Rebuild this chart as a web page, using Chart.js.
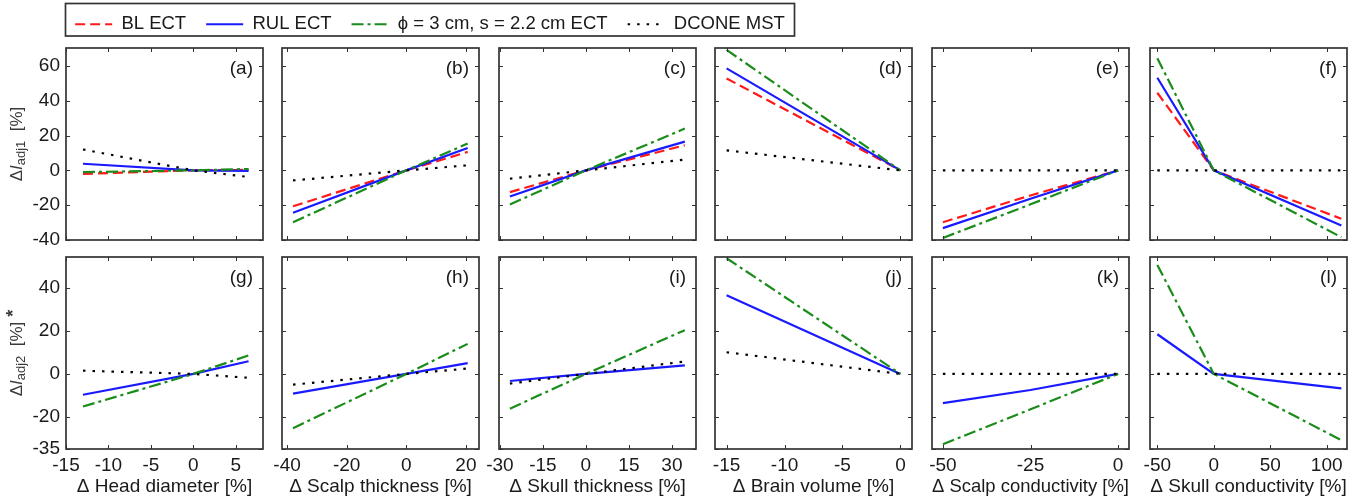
<!DOCTYPE html>
<html>
<head>
<meta charset="utf-8">
<script src="https://cdn.jsdelivr.net/npm/chart.js@4.4.1/dist/chart.umd.min.js"></script>
<style>
html, body { margin: 0; padding: 0; background: #fff; }
#wrap { position: relative; width: 1361px; height: 500px; overflow: hidden; background: #fff; }
#wrap canvas { position: absolute; }
</style>
</head>
<body>
<div id="wrap"></div>
<script>
// ---- data ----
const seriesNames = ['BL ECT', 'RUL ECT', 'ϕ = 3 cm, s = 2.2 cm ECT', 'DCONE MST'];
const panelLetters = [['a', 'b', 'c', 'd', 'e', 'f'], ['g', 'h', 'i', 'j', 'k', 'l']];
const xTitles = ['Δ Head diameter [%]', 'Δ Scalp thickness [%]', 'Δ Skull thickness [%]',
  'Δ Brain volume [%]', 'Δ Scalp conductivity [%]', 'Δ Skull conductivity [%]'];
const xTickVals = [[-15, -10, -5, 0, 5], [-40, -20, 0, 20], [-30, -15, 0, 15, 30],
  [-15, -10, -5, 0], [-50, -25, 0], [-50, 0, 50, 100]];
const xMin = [-15, -41.7, -30.3, -16, -53.1, -56.5];
const xMax = [8.2, 24.4, 38.4, 1, 3.1, 118];
const yTickVals = [[-40, -20, 0, 20, 40, 60], [-35, -20, 0, 20, 40]];
const yMin = [-40, -35];
const yMax = [70.3, 54.5];

// sampled parameter changes [%] for each column
const xSamples = [[-13, 0, 6.5], [-38, 0, 20.6], [-26.5, 0, 34.5], [-15, 0], [-50, -25, 0], [-50, 0, 113]];

// ΔI_adj1 [%] (top row)
const blAdj1 = [[-2, 0, 0.3], [-20.6, 0, 10.6], [-12.5, 0, 14.4], [52.8, 0], [-29.8, -14.4, 0], [44.6, 0, -27.8]];
const rulAdj1 = [[3.8, 0, -0.3], [-24.4, 0, 12.8], [-15, 0, 16.5], [58.6, 0], [-33.2, -16.3, 0], [53.2, 0, -31.7]];
const phiAdj1 = [[-1, 0, 0.8], [-29.8, 0, 15.4], [-19.6, 0, 24], [69.2, 0], [-38.8, -19.5, 0], [64.4, 0, -38.4]];
const dconeAdj1 = [[12, 0, -3.8], [-5.8, 0, 2.9], [-4.8, 0, 6.2], [11.5, 0], [0, 0, 0], [0, 0, 0]];

// ΔI_adj2 [%] (bottom row, no BL ECT curve)
const rulAdj2 = [[-9.7, 0, 5.9], [-9.2, 0, 5], [-3.3, 0, 4], [36.7, 0], [-13.6, -7.5, 0], [18.5, 0, -6.7]];
const phiAdj2 = [[-15.2, 0, 8.6], [-25.3, 0, 14], [-16.2, 0, 20.4], [53.9, 0], [-32.8, -16.5, 0], [50.8, 0, -30.9]];
const dconeAdj2 = [[1.5, 0, -1.8], [-5, 0, 2.5], [-4.5, 0, 5.8], [10.1, 0], [0, 0, 0], [0, 0, 0]];

const rowSeries = [[blAdj1, rulAdj1, phiAdj1, dconeAdj1], [null, rulAdj2, phiAdj2, dconeAdj2]];

// ---- styles / layout ----
const FONT = '"Liberation Sans", Arial, Helvetica, sans-serif';
const TXT = '#1a1a1a';
const lineStyles = [
  { color: '#ff1a1a', dash: [10, 5] },
  { color: '#1a1aff', dash: [] },
  { color: '#1a8c1a', dash: [12, 4, 3, 4] },
  { color: '#000000', dash: [2.5, 7] }
];
const colLeft = [66, 282, 499, 715, 932, 1150];
const rowTop = [48, 257];
const panelW = 197, panelH = 192;

const wrap = document.getElementById('wrap');

function drawRich(ctx, parts, cx, cy) {
  ctx.save();
  ctx.translate(cx, cy);
  ctx.rotate(-Math.PI / 2);
  ctx.textBaseline = 'middle';
  ctx.textAlign = 'left';
  let total = 0;
  parts.forEach(p => { ctx.font = p.f; total += ctx.measureText(p.t).width; });
  let x = -total / 2;
  parts.forEach(p => {
    ctx.font = p.f;
    ctx.fillText(p.t, x, p.dy || 0);
    x += ctx.measureText(p.t).width;
  });
  ctx.restore();
}

const deco = {
  id: 'deco',
  afterDraw(chart, args, opts) {
    const { ctx, chartArea: a, scales } = chart;
    const x = scales.x, y = scales.y;
    ctx.save();
    ctx.strokeStyle = '#333';
    ctx.lineWidth = 1;
    ctx.beginPath();
    x.ticks.forEach(t => {
      const px = Math.round(x.getPixelForValue(t.value)) + 0.5;
      ctx.moveTo(px, a.bottom); ctx.lineTo(px, a.bottom - 4);
      ctx.moveTo(px, a.top); ctx.lineTo(px, a.top + 4);
    });
    y.ticks.forEach(t => {
      const py = Math.round(y.getPixelForValue(t.value)) + 0.5;
      ctx.moveTo(a.left, py); ctx.lineTo(a.left + 4, py);
      ctx.moveTo(a.right, py); ctx.lineTo(a.right - 4, py);
    });
    ctx.stroke();
    ctx.lineWidth = 1.7;
    ctx.strokeRect(a.left, a.top, a.right - a.left, a.bottom - a.top);
    ctx.fillStyle = TXT;
    ctx.font = '19px ' + FONT;
    ctx.textAlign = 'right';
    ctx.textBaseline = 'middle';
    ctx.fillText('(' + opts.letter + ')', a.right - 10, a.top + 21);
    if (opts.yTitle) {
      ctx.fillStyle = '#3a3a3a';
      drawRich(ctx, opts.yTitle, 17, (a.top + a.bottom) / 2);
    }
    ctx.restore();
  }
};

function yTitleParts(r) {
  const parts = [
    { t: 'Δ', f: '17px ' + FONT },
    { t: 'I', f: 'italic 17px ' + FONT },
    { t: r === 0 ? 'adj1' : 'adj2', f: '13px ' + FONT, dy: 4 },
    { t: '  [%]', f: '17px ' + FONT }
  ];
  if (r === 1) parts.push({ t: ' *', f: 'bold 18px ' + FONT, dy: -3 });
  return parts;
}

for (let r = 0; r < 2; r++) {
  for (let c = 0; c < 6; c++) {
    const padL = c === 0 ? 66 : 20, padR = 18, padT = 4, padB = r === 0 ? 8 : 51;
    const cv = document.createElement('canvas');
    cv.width = panelW + padL + padR;
    cv.height = panelH + padT + padB;
    cv.style.left = (colLeft[c] - padL) + 'px';
    cv.style.top = (rowTop[r] - padT) + 'px';
    wrap.appendChild(cv);

    const datasets = [];
    rowSeries[r].forEach((ser, k) => {
      if (!ser) return;
      datasets.push({
        label: seriesNames[k],
        data: xSamples[c].map((xv, i) => ({ x: xv, y: ser[c][i] })),
        borderColor: lineStyles[k].color,
        borderDash: lineStyles[k].dash,
        borderWidth: 2.2,
        pointRadius: 0,
        tension: 0,
        fill: false,
        order: 4 - k
      });
    });

    new Chart(cv, {
      type: 'line',
      data: { datasets },
      options: {
        responsive: false,
        animation: false,
        events: [],
        layout: { padding: { top: padT, right: padR, left: 0, bottom: 0 } },
        plugins: {
          legend: { display: false },
          tooltip: { enabled: false },
          deco: { letter: panelLetters[r][c], yTitle: c === 0 ? yTitleParts(r) : null }
        },
        scales: {
          x: {
            type: 'linear',
            min: xMin[c],
            max: xMax[c],
            afterBuildTicks: s => { s.ticks = xTickVals[c].map(v => ({ value: v })); },
            afterFit: s => { s.height = padB; s.paddingLeft = 0; s.paddingRight = 0; },
            grid: { display: false, drawTicks: false },
            border: { display: false },
            ticks: { display: r === 1, autoSkip: false, maxRotation: 0, padding: 5, color: TXT, font: { family: FONT, size: 19 } },
            title: { display: r === 1, text: xTitles[c], color: TXT, font: { family: FONT, size: 19 }, padding: { top: 0, bottom: 2 } }
          },
          y: {
            type: 'linear',
            min: yMin[r],
            max: yMax[r],
            afterBuildTicks: s => { s.ticks = yTickVals[r].map(v => ({ value: v })); },
            afterFit: s => { s.width = padL; s.paddingTop = 0; s.paddingBottom = 0; },
            grid: { display: false, drawTicks: false },
            border: { display: false },
            ticks: { display: c === 0, autoSkip: false, padding: 6, color: TXT, font: { family: FONT, size: 19 } }
          }
        }
      },
      plugins: [deco]
    });
  }
}

// ---- legend ----
const legendBox = {
  id: 'legendBox',
  afterDraw(chart) {
    const { ctx, width } = chart;
    ctx.save();
    ctx.strokeStyle = '#333';
    ctx.lineWidth = 1.7;
    ctx.strokeRect(15.5, 8.5, width - 31, 32.5);
    ctx.restore();
  }
};
const lg = document.createElement('canvas');
lg.width = 760; lg.height = 110;
lg.style.left = '50px'; lg.style.top = '-5px';
wrap.appendChild(lg);
new Chart(lg, {
  type: 'line',
  data: {
    datasets: seriesNames.map((n, k) => ({
      label: n, data: [], borderColor: lineStyles[k].color, borderDash: lineStyles[k].dash, borderWidth: 2.2
    }))
  },
  options: {
    responsive: false,
    animation: false,
    events: [],
    layout: { padding: 0 },
    scales: { x: { display: false }, y: { display: false } },
    plugins: {
      tooltip: { enabled: false },
      legend: {
        display: true,
        position: 'top',
        labels: {
          usePointStyle: true,
          pointStyleWidth: 37,
          padding: 20,
          color: TXT,
          font: { family: FONT, size: 18.5 },
          generateLabels: chart => chart.data.datasets.map((d, i) => ({
            text: d.label,
            strokeStyle: d.borderColor,
            fillStyle: d.borderColor,
            lineWidth: d.borderWidth,
            lineDash: d.borderDash,
            lineCap: 'butt',
            pointStyle: 'line',
            fontColor: TXT,
            hidden: false,
            datasetIndex: i
          }))
        }
      }
    }
  },
  plugins: [legendBox]
});
</script>
</body>
</html>
